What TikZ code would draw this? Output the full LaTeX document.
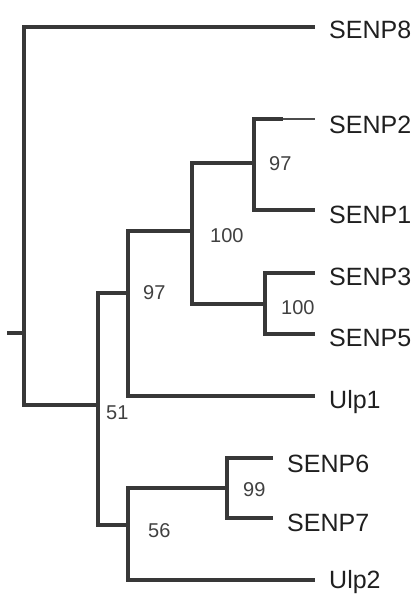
\documentclass[tikz,border=0pt]{standalone}
\usepackage{fontspec}
\setmainfont{Liberation Sans}
\begin{document}
\begin{tikzpicture}[x=1pt,y=-1pt,
  br/.style={line width=3.2pt, draw=black!78, line cap=butt, line join=miter},
  brthin/.style={line width=1.4pt, draw=black!70, line cap=butt},
  leaf/.style={anchor=base west, inner sep=0pt, font=\fontsize{25}{30}\selectfont, text=black!88},
  boot/.style={anchor=base west, inner sep=0pt, font=\fontsize{20}{24}\selectfont, text=black!75}]
\useasboundingbox (0,0) rectangle (419,594);
% internal nodes
\coordinate (stub) at (7,333);
\coordinate (root) at (24,333);
\coordinate (n51) at (98,405);
\coordinate (n97) at (128,293);
\coordinate (n100) at (192,231);
\coordinate (n97b) at (254,163);
\coordinate (n100b) at (265,304);
\coordinate (n56) at (128,525);
\coordinate (n99) at (227,488);
% leaves
\coordinate (l8) at (315,27);
\coordinate (l2m) at (283,119);
\coordinate (l2) at (315,119);
\coordinate (l1) at (315,210);
\coordinate (l3) at (315,273);
\coordinate (l5) at (315,334);
\coordinate (lu1) at (315,396);
\coordinate (l6) at (273,458);
\coordinate (l7) at (273,518);
\coordinate (lu2) at (315,580);
% branches
\draw[br] (stub) -- (root);
\draw[br] (root) |- (l8);
\draw[br] (root) |- (n51);
\draw[br] (n51) |- (n97);
\draw[br] (n51) |- (n56);
\draw[br] (n97) |- (n100);
\draw[br] (n97) |- (lu1);
\draw[br] (n100) |- (n97b);
\draw[br] (n100) |- (n100b);
\draw[br] (n97b) |- (l2m);
\draw[brthin] (l2m) -- (l2);
\draw[br] (n97b) |- (l1);
\draw[br] (n100b) |- (l3);
\draw[br] (n100b) |- (l5);
\draw[br] (n56) |- (n99);
\draw[br] (n56) |- (lu2);
\draw[br] (n99) |- (l6);
\draw[br] (n99) |- (l7);
% leaf labels
\node[leaf] (t8) at (329,38) {SENP8};
\node[leaf] (t2) at (329,133) {SENP2};
\node[leaf] (t1) at (329,223) {SENP1};
\node[leaf] (t3) at (329,285) {SENP3};
\node[leaf] (t5) at (329,346) {SENP5};
\node[leaf] (tu1) at (329,408) {Ulp1};
\node[leaf] (t6) at (287,472) {SENP6};
\node[leaf] (t7) at (287,531) {SENP7};
\node[leaf] (tu2) at (329,588) {Ulp2};
% bootstrap values
\node[boot] (b97a) at (269,170.5) {97};
\node[boot] (b100a) at (210,242.5) {100};
\node[boot] (b100b) at (281,314.5) {100};
\node[boot] (b97b) at (143,299.5) {97};
\node[boot] (b51) at (106,419.5) {51};
\node[boot] (b56) at (148,537.5) {56};
\node[boot] (b99) at (243,496.5) {99};
\end{tikzpicture}
\end{document}
